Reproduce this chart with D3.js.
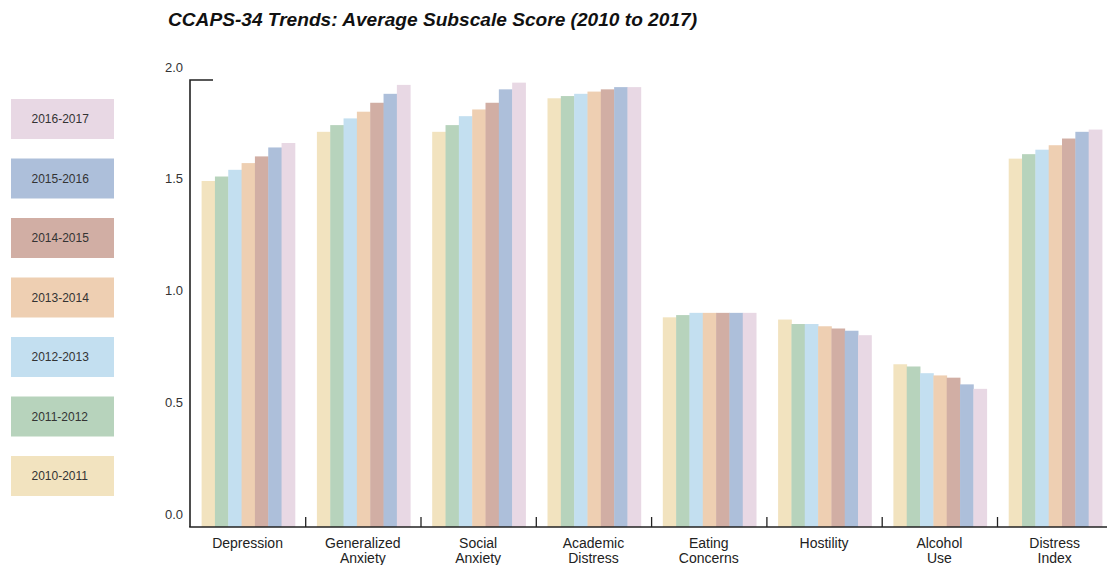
<!DOCTYPE html>
<html><head><meta charset="utf-8">
<script src="https://cdn.jsdelivr.net/npm/d3@7"></script>
<style>
html,body{margin:0;padding:0;background:#fff;}
svg{display:block;font-family:"Liberation Sans",Arial,Helvetica,sans-serif;}
</style></head>
<body><svg id="c" width="1107" height="565"></svg>
<script>
const categories = [["Depression"],["Generalized","Anxiety"],["Social","Anxiety"],["Academic","Distress"],["Eating","Concerns"],["Hostility"],["Alcohol","Use"],["Distress","Index"]];
const years = ["2010-2011","2011-2012","2012-2013","2013-2014","2014-2015","2015-2016","2016-2017"];
const colors = ["#f2e3bf","#b7d3bc","#c3dff0","#eecfb2","#d1aea4","#adbfda","#e8d8e4"];
const s2010 = [1.49,1.71,1.71,1.86,0.88,0.87,0.67,1.59];
const s2011 = [1.51,1.74,1.74,1.87,0.89,0.85,0.66,1.61];
const s2012 = [1.54,1.77,1.78,1.88,0.90,0.85,0.63,1.63];
const s2013 = [1.57,1.80,1.81,1.89,0.90,0.84,0.62,1.65];
const s2014 = [1.60,1.84,1.84,1.90,0.90,0.83,0.61,1.68];
const s2015 = [1.64,1.88,1.90,1.91,0.90,0.82,0.58,1.71];
const s2016 = [1.66,1.92,1.93,1.91,0.90,0.80,0.56,1.72];
const series = [s2010,s2011,s2012,s2013,s2014,s2015,s2016];
const yTicks = [0,0.5,1.0,1.5,2.0];
const title = "CCAPS-34 Trends: Average Subscale Score (2010 to 2017)";

const svg = d3.select("#c");
const catKeys = categories.map(c=>c.join(" "));
const x0 = d3.scaleBand().domain(catKeys).range([190.4, 190.4 + 8*115.3]).padding(0);
const x1 = d3.scaleBand().domain(years).range([11.2, x0.bandwidth()-10.8]).padding(0);
const y = d3.scaleLinear().domain([0,2]).range([514,67]);
const axisOff = 13; // axis geometry sits 13px below the label positions
const base = y(0)+axisOff;

// title
svg.append("text").attr("x",168).attr("y",26)
  .attr("font-size",18).attr("font-weight","bold").attr("font-style","italic")
  .attr("fill","#111").attr("textLength",529).attr("lengthAdjust","spacingAndGlyphs")
  .text(title);

// legend
const leg = svg.append("g");
years.slice().reverse().forEach((yr,i)=>{
  const idx = years.indexOf(yr);
  const top = 99 + i*59.5;
  leg.append("rect").attr("x",11).attr("y",top).attr("width",103).attr("height",40).attr("fill",colors[idx]);
  leg.append("text").attr("x",31.5).attr("y",top+20).attr("dy","0.35em")
    .attr("font-size",12).attr("fill","#333").text(yr);
});

// bars
const g = svg.append("g");
catKeys.forEach((ck,ci)=>{
  years.forEach((yr,si)=>{
    const v = series[si][ci];
    g.append("rect")
      .attr("x", x0(ck)+x1(yr)).attr("width", x1.bandwidth()+0.4)
      .attr("y", y(v)).attr("height", base - y(v))
      .attr("fill", colors[si]);
  });
});

// y axis
const yAxis = d3.axisLeft(y).tickValues(yTicks).tickFormat(d3.format(".1f")).tickSize(0).tickPadding(7);
const ya = svg.append("g").attr("transform","translate(190,0)").call(yAxis);
ya.select(".domain").remove();
ya.selectAll("text").attr("font-size",13).attr("fill","#333").attr("font-family","Liberation Sans,Arial,sans-serif");
svg.append("path").attr("d",`M213,${y(2)+axisOff}H190V${base}`).attr("fill","none").attr("stroke","#222").attr("stroke-width",1.6);

// x axis
svg.append("line").attr("x1",189.2).attr("x2",1107).attr("y1",base).attr("y2",base).attr("stroke","#222").attr("stroke-width",1.6);
catKeys.slice(1).forEach(ck=>{
  svg.append("line").attr("x1",x0(ck)).attr("x2",x0(ck)).attr("y1",base-10).attr("y2",base).attr("stroke","#222").attr("stroke-width",1.3);
});
categories.forEach((c,ci)=>{
  const t = svg.append("text").attr("text-anchor","middle").attr("font-size",14).attr("fill","#222");
  c.forEach((line,li)=>{
    t.append("tspan").attr("x", x0(catKeys[ci]) + x0.bandwidth()/2 - 0.5).attr("y", 548 + li*15).text(line);
  });
});
</script></body></html>
